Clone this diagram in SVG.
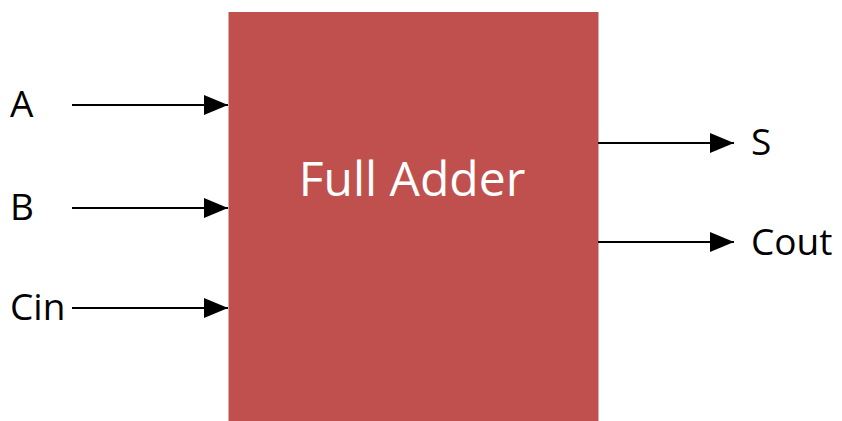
<svg xmlns="http://www.w3.org/2000/svg" width="842" height="421" viewBox="0 0 842 421">
<defs>
<marker id="arr" viewBox="0 0 24 20" refX="24" refY="10" markerWidth="24" markerHeight="20" markerUnits="userSpaceOnUse" orient="auto">
<path d="M0,0 L24,10 L0,20 Z" fill="#000"/>
</marker>
<style>
.lbl{font-family:"Open Sans","Liberation Sans",sans-serif;font-size:37px;fill:#000}
.title{font-family:"Open Sans","Liberation Sans",sans-serif;font-size:48px;fill:#fff}
.wire{stroke:#000;stroke-width:2;fill:none;marker-end:url(#arr)}
</style>
</defs>
<rect width="842" height="421" fill="#fff"/>
<g id="full-adder">
<rect x="228.5" y="12" width="370" height="412" fill="#C0504D"/>
<text class="title" x="412" y="196" text-anchor="middle">Full Adder</text>
</g>
<g id="in-A"><text class="lbl" x="10" y="117">A</text></g>
<g id="in-B"><text class="lbl" x="10" y="220">B</text></g>
<g id="in-Cin"><text class="lbl" x="10" y="320">Cin</text></g>
<g id="out-S"><text class="lbl" x="751" y="155">S</text></g>
<g id="out-Cout"><text class="lbl" x="751" y="255">Cout</text></g>
<g id="connectors">
<line class="wire" x1="72" y1="105" x2="228" y2="105"/>
<line class="wire" x1="72" y1="208" x2="228" y2="208"/>
<line class="wire" x1="72" y1="308" x2="228" y2="308"/>
<line class="wire" x1="598" y1="143" x2="734" y2="143"/>
<line class="wire" x1="598" y1="242" x2="734" y2="242"/>
</g>
</svg>
